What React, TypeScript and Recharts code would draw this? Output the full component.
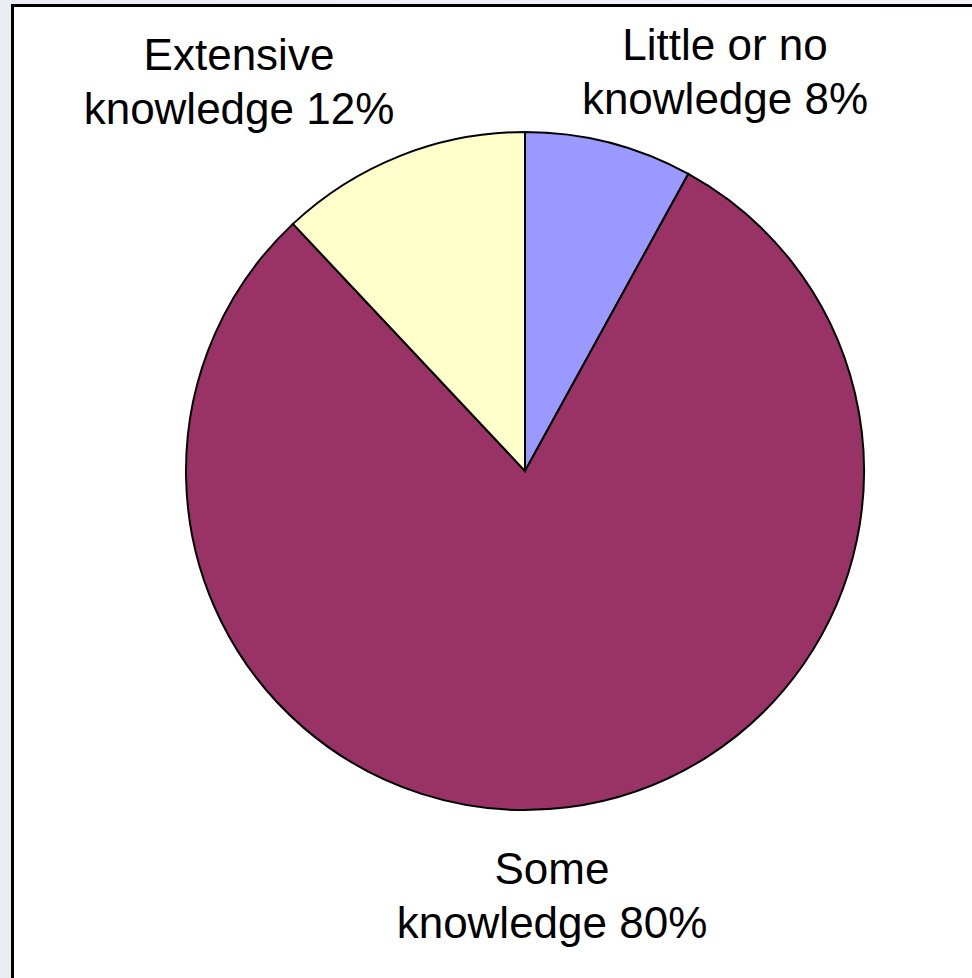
import React from 'react';
import { PieChart, Pie, Cell } from 'recharts';

const categories = ['Little or no knowledge', 'Some knowledge', 'Extensive knowledge'];
const values = [8, 80, 12];
const labelLines = [
  ['Little or no', 'knowledge 8%'],
  ['Some', 'knowledge 80%'],
  ['Extensive', 'knowledge 12%'],
];

const COLORS = ['#9999FF', '#993366', '#FFFFCC'];
// label anchor (centre x, first baseline y) per slice, in chart pixels
const LABEL_POS = [
  { x: 725, y: 60 },
  { x: 552, y: 884 },
  { x: 239, y: 70 },
];
const LINE_GAP = 54;

const data = categories.map((name, i) => ({ name, value: values[i], lines: labelLines[i] }));

const renderLabel = (props: any) => {
  const i = props.index;
  const pos = LABEL_POS[i];
  const lines: string[] = data[i].lines;
  return (
    <text
      key={`lbl-${i}`}
      x={pos.x}
      y={pos.y}
      textAnchor="middle"
      fontFamily="'Liberation Sans', Arial, sans-serif"
      fontSize={44}
      fill="#000"
    >
      {lines.map((t, k) => (
        <tspan key={k} x={pos.x} dy={k === 0 ? 0 : LINE_GAP}>
          {t}
        </tspan>
      ))}
    </text>
  );
};

export default function App() {
  return (
    <div
      style={{
        position: 'absolute',
        left: 0,
        top: 0,
        width: 972,
        height: 978,
        overflow: 'hidden',
        background: 'linear-gradient(90deg, #e9edf3 0%, #f2f4f7 100%)',
      }}
    >
      <div
        style={{
          position: 'absolute',
          left: 11,
          top: 4,
          width: 1000,
          height: 1000,
          background: '#ffffff',
          border: '3px solid #000',
          boxSizing: 'border-box',
        }}
      />
      <div style={{ position: 'absolute', left: 0, top: 0 }}>
        <PieChart width={972} height={978} margin={{ top: 0, right: 0, bottom: 0, left: 0 }}>
          <Pie
            data={data}
            dataKey="value"
            nameKey="name"
            cx={525}
            cy={471}
            outerRadius={339}
            startAngle={90}
            endAngle={-270}
            stroke="#000"
            strokeWidth={2}
            label={renderLabel}
            labelLine={false}
            isAnimationActive={false}
          >
            {data.map((d, i) => (
              <Cell key={d.name} fill={COLORS[i]} />
            ))}
          </Pie>
        </PieChart>
      </div>
    </div>
  );
}
